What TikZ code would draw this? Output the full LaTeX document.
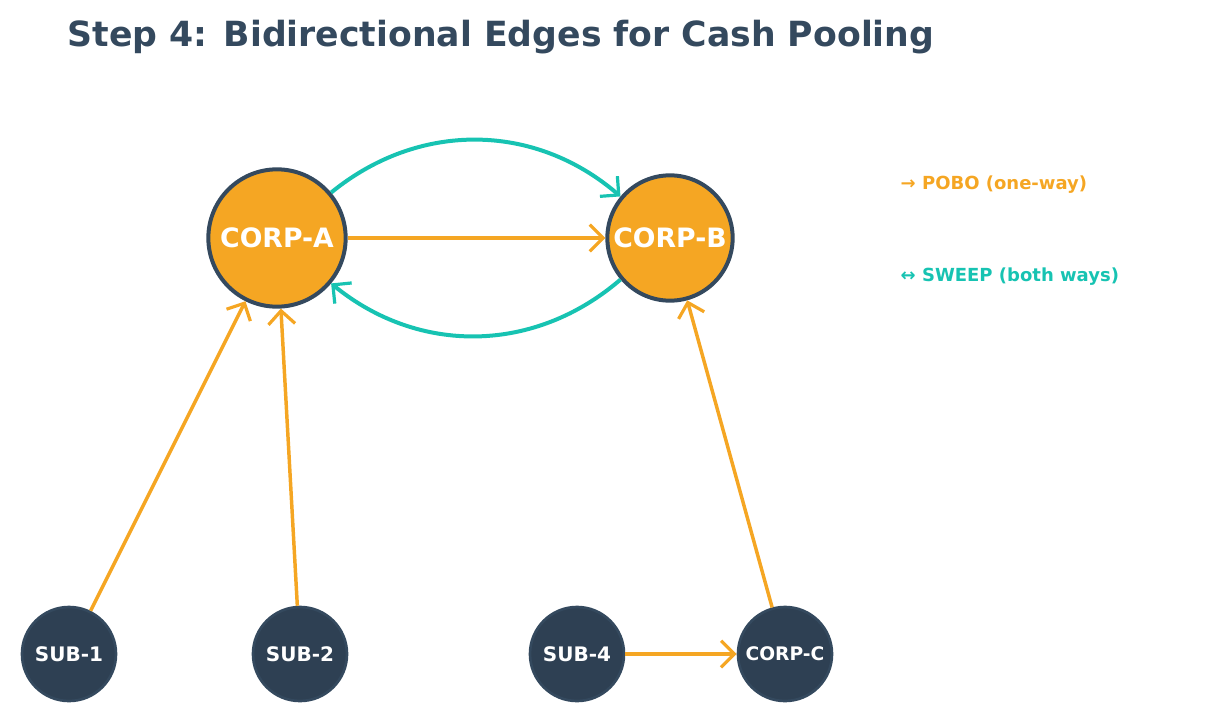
\documentclass[tikz,border=0pt]{standalone}
\usepackage{fontspec}
\setmainfont{DejaVu Sans}
\usetikzlibrary{arrows.meta}
\definecolor{org}{HTML}{F5A623}
\definecolor{teal}{HTML}{17C3B2}
\definecolor{dark}{HTML}{2E4053}
\definecolor{edge}{HTML}{34495E}
\begin{document}
\begin{tikzpicture}[x=0.75pt,y=-0.75pt,
 big/.style={circle,fill=org,draw=edge,line width=3pt,text=white,font=\bfseries\fontsize{20}{22}\selectfont,inner sep=0pt},
 small/.style={circle,fill=dark,draw=edge,line width=2pt,text=white,font=\bfseries\fontsize{15}{17}\selectfont,minimum size=70.5pt,inner sep=0pt},
 oa/.style={org,line width=2.6pt,-{Straight Barb[length=10pt,width=20pt,line width=2.4pt]}},
 ta/.style={teal,line width=3pt,-{Straight Barb[length=10pt,width=20pt,line width=2.4pt]}}]
\useasboundingbox (0,0) rectangle (1219,724);
\node[anchor=west,text=edge,font=\bfseries\fontsize{26}{30}\selectfont] (title) at (63,37) {Step 4: Bidirectional Edges for Cash Pooling};
\node[big,minimum size=103pt] (A) at (277,238) {CORP-A};
\node[big,minimum size=94pt] (B) at (670,238) {CORP-B};
\node[small] (s1) at (69,654) {SUB-1};
\node[small] (s2) at (300,654) {SUB-2};
\node[small] (s4) at (577,654) {SUB-4};
\node[small,font=\bfseries\fontsize{14}{16}\selectfont] (C) at (785,654) {CORP-C};
\draw[ta] (A) to[bend left=40] (B);
\draw[ta] (B) to[bend left=40] (A);
\draw[oa] (A) -- (B);
\draw[oa] (s1) -- (A);
\draw[oa] (s2) -- (A);
\draw[oa] (s4) -- (C);
\draw[oa] (C) -- (B);
\node[anchor=west,text=org,font=\bfseries\fontsize{13.5}{16}\selectfont] (l1) at (896,185) {→ POBO (one-way)};
\node[anchor=west,text=teal,font=\bfseries\fontsize{13.5}{16}\selectfont] (l2) at (896,277) {↔ SWEEP (both ways)};
\end{tikzpicture}
\end{document}
